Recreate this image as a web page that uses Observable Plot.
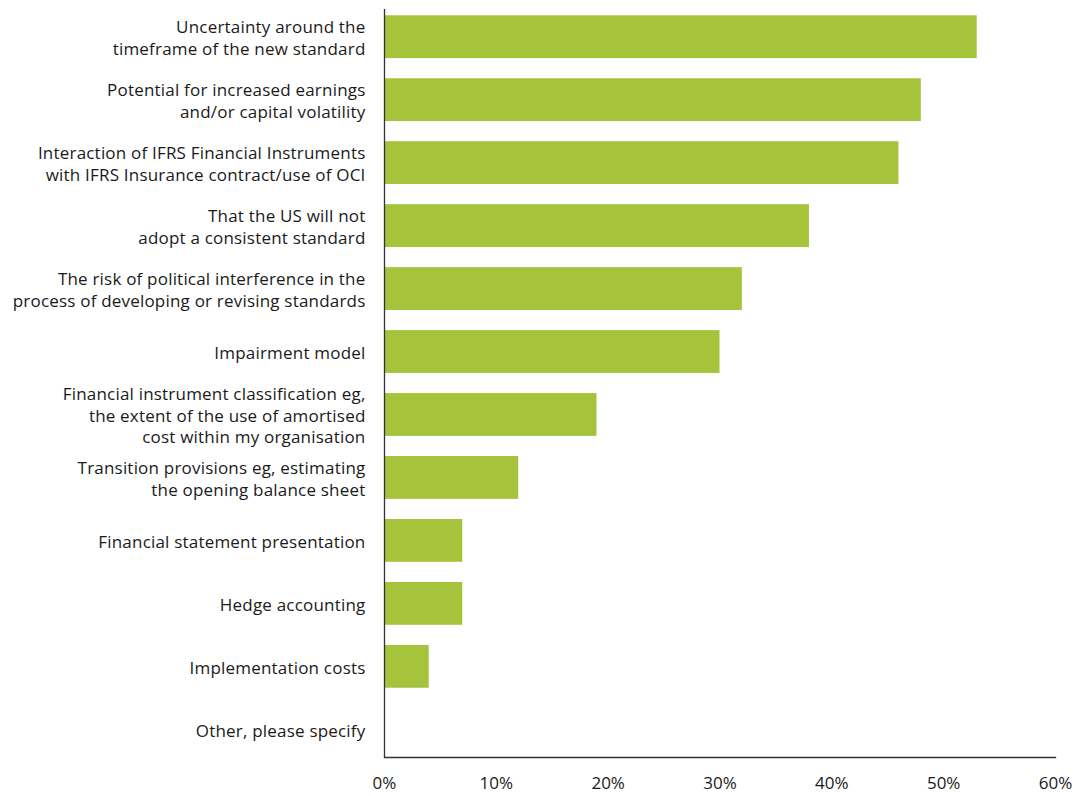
<!DOCTYPE html>
<html>
<head>
<meta charset="utf-8">
<script src="https://cdn.jsdelivr.net/npm/d3@7"></script>
<script src="https://cdn.jsdelivr.net/npm/@observablehq/plot@0.6"></script>
<style>
  html, body { margin: 0; padding: 0; background: #fff; }
  #chart svg { display: block; }
  #chart g[aria-label="y-axis tick label"] { letter-spacing: 0.2px; }
</style>
</head>
<body>
<div id="chart"></div>
<script>
const categories = [
  "Uncertainty around the\ntimeframe of the new standard",
  "Potential for increased earnings\nand/or capital volatility",
  "Interaction of IFRS Financial Instruments\nwith IFRS Insurance contract/use of OCI",
  "That the US will not\nadopt a consistent standard",
  "The risk of political interference in the\nprocess of developing or revising standards",
  "Impairment model",
  "Financial instrument classification eg,\nthe extent of the use of amortised\ncost within my organisation",
  "Transition provisions eg, estimating\nthe opening balance sheet",
  "Financial statement presentation",
  "Hedge accounting",
  "Implementation costs",
  "Other, please specify"
];
const values = [53, 48, 46, 38, 32, 30, 19, 12, 7, 7, 4, 0];
const xTicks = [0, 10, 20, 30, 40, 50, 60];

const data = categories.map((c, i) => ({category: c, value: values[i]}));

const chart = Plot.plot({
  width: 1090,
  height: 796,
  marginLeft: 384,
  marginRight: 35,
  marginTop: 9,
  marginBottom: 39,
  style: {fontFamily: "'Open Sans', 'Noto Sans', sans-serif", fontSize: "17px", color: "#1a1a1a"},
  x: {domain: [0, 60], ticks: xTicks, tickFormat: d => d + "%"},
  y: {domain: categories, paddingInner: 0.32, paddingOuter: 0.1, round: false},
  marks: [
    Plot.barX(data, {x: "value", y: "category", fill: "#a6c43b"}),
    Plot.ruleX([0], {stroke: "#333", strokeWidth: 1.3}),
    Plot.frame({anchor: "bottom", stroke: "#333", strokeWidth: 1.3}),
    Plot.axisX({ticks: xTicks, tickFormat: d => d + "%", tickSize: 0, tickPadding: 19, label: null, fontSize: 17, fill: "#1a1a1a"}),
    Plot.axisY({tickSize: 0, tickPadding: 19, label: null, lineHeight: 1.26, fontSize: 17, fill: "#1a1a1a"})
  ]
});
document.getElementById("chart").appendChild(chart);
</script>
</body>
</html>
